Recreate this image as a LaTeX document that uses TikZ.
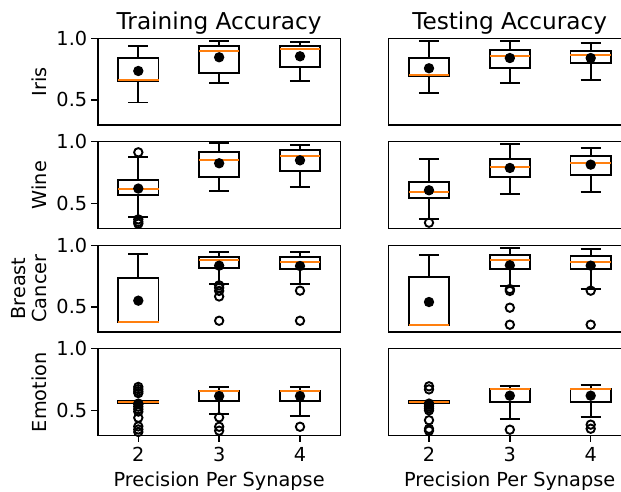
\documentclass[tikz,border=0pt]{standalone}
\usepackage{fontspec}
\setmainfont{DejaVu Sans}
\definecolor{mplorange}{HTML}{FF7F0E}
\tikzset{
  spine/.style={line width=1.4pt, line cap=rect},
  boxline/.style={line width=1.8pt},
  medline/.style={line width=1.8pt, mplorange},
  flier/.style={line width=1.9pt},
  tick/.style={font=\fontsize{19.3}{23}\selectfont, inner sep=0pt},
  ttl/.style={font=\fontsize{23.2}{28}\selectfont, inner sep=0pt, anchor=base},
  lbl/.style={font=\fontsize{19.3}{23}\selectfont, inner sep=0pt, anchor=base},
}
% x, whislo, q1, median, q3, whishi, mean
\newcommand\bxp[7]{%
  \draw[boxline] (#1,#3) -- (#1,#2) (#1-0.125,#2) -- (#1+0.125,#2);
  \draw[boxline] (#1,#5) -- (#1,#6) (#1-0.125,#6) -- (#1+0.125,#6);
  \draw[boxline] (#1-0.25,#3) rectangle (#1+0.25,#5);
  \draw[medline] (#1-0.25,#4) -- (#1+0.25,#4);
  \fill (#1,#7) circle (5.2pt);
}
\newcommand\flr[2]{\draw[flier] (#1,#2) circle (4.2pt);}
\newcommand\leftframe{%
  \draw[spine] (1.5,1) rectangle (4.5,0.297);
  \draw[spine] (1.5,1) -- ++(-6.3pt,0) (1.5,0.5) -- ++(-6.3pt,0);
}
\newcommand\rightframe{%
  \draw[spine] (4.376,1) -- (1.5,1) -- (1.5,0.297) -- (4.376,0.297);
}
\newcommand\xticks{%
  \draw[spine] (2,0.297) -- ++(0,-6.3pt) (3,0.297) -- ++(0,-6.3pt) (4,0.297) -- ++(0,-6.3pt);
}
\begin{document}
\begin{tikzpicture}[x=1pt,y=1pt]
\useasboundingbox (0,0) rectangle (621,491);

% titles and labels
\node[ttl] (ttrain) at (219.1,461.7) {Training Accuracy};
\node[ttl] (ttest) at (509.7,461.7) {Testing Accuracy};
\node[lbl] (xlL) at (219.1,5) {Precision Per Synapse};
\node[lbl] (xlR) at (509.7,5) {Precision Per Synapse};
\node[lbl, rotate=90] (ylIris) at (46.7,409.3) {Iris};
\node[lbl, rotate=90] (ylWine) at (46.7,306) {Wine};
\node[lbl, rotate=90] (ylBreast) at (25.2,202.5) {Breast};
\node[lbl, rotate=90] (ylCancer) at (46.7,202.5) {Cancer};
\node[lbl, rotate=90] (ylEmo) at (46.7,98.8) {Emotion};

% ---------- Left column: training ----------
\begin{scope}[shift={(-23.4pt,329.4pt)}, x=80.85pt, y=123.3pt]
  \leftframe
  \node[tick, anchor=east] (a1hi) at ([xshift=-10.5pt]1.5,1) {1.0};
  \node[tick, anchor=east] (a1lo) at ([xshift=-10.5pt]1.5,0.5) {0.5};
  \bxp{2}{0.48}{0.65}{0.66}{0.84}{0.94}{0.735}
  \bxp{3}{0.64}{0.719}{0.897}{0.94}{0.978}{0.846}
  \bxp{4}{0.651}{0.767}{0.91}{0.94}{0.97}{0.854}
\end{scope}

\begin{scope}[shift={(-23.4pt,226.0pt)}, x=80.85pt, y=123.3pt]
  \leftframe
  \node[tick, anchor=east] (a2hi) at ([xshift=-10.5pt]1.5,1) {1.0};
  \node[tick, anchor=east] (a2lo) at ([xshift=-10.5pt]1.5,0.5) {0.5};
  \bxp{2}{0.392}{0.565}{0.619}{0.687}{0.873}{0.62}
  \flr{2}{0.914}\flr{2}{0.37}\flr{2}{0.35}\flr{2}{0.335}
  \bxp{3}{0.603}{0.716}{0.854}{0.919}{0.987}{0.825}
  \bxp{4}{0.635}{0.76}{0.886}{0.93}{0.973}{0.849}
\end{scope}

\begin{scope}[shift={(-23.4pt,122.4pt)}, x=80.85pt, y=123.3pt]
  \leftframe
  \node[tick, anchor=east] (a3hi) at ([xshift=-10.5pt]1.5,1) {1.0};
  \node[tick, anchor=east] (a3lo) at ([xshift=-10.5pt]1.5,0.5) {0.5};
  \bxp{2}{0.38}{0.38}{0.38}{0.732}{0.93}{0.551}
  \bxp{3}{0.684}{0.818}{0.883}{0.908}{0.946}{0.835}
  \flr{3}{0.675}\flr{3}{0.655}\flr{3}{0.63}\flr{3}{0.585}\flr{3}{0.388}
  \bxp{4}{0.684}{0.81}{0.867}{0.908}{0.946}{0.832}
  \flr{4}{0.632}\flr{4}{0.388}
\end{scope}

\begin{scope}[shift={(-23.4pt,19.0pt)}, x=80.85pt, y=123.3pt]
  \leftframe
  \xticks
  \node[tick, anchor=east] (a4hi) at ([xshift=-10.5pt]1.5,1) {1.0};
  \node[tick, anchor=east] (a4lo) at ([xshift=-10.5pt]1.5,0.5) {0.5};
  \node[lbl] (xl2) at ([yshift=-26.3pt]2,0.297) {2};
  \node[lbl] (xl3) at ([yshift=-26.3pt]3,0.297) {3};
  \node[lbl] (xl4) at ([yshift=-26.3pt]4,0.297) {4};
  \bxp{2}{0.56}{0.56}{0.568}{0.576}{0.576}{0.555}
  \flr{2}{0.69}\flr{2}{0.672}\flr{2}{0.655}\flr{2}{0.64}
  \flr{2}{0.55}\flr{2}{0.53}\flr{2}{0.51}\flr{2}{0.49}\flr{2}{0.44}
  \flr{2}{0.37}\flr{2}{0.345}\flr{2}{0.325}
  \bxp{3}{0.47}{0.576}{0.66}{0.66}{0.692}{0.616}
  \flr{3}{0.443}\flr{3}{0.367}\flr{3}{0.335}
  \bxp{4}{0.454}{0.576}{0.66}{0.66}{0.692}{0.616}
  \flr{4}{0.367}
\end{scope}

% ---------- Right column: testing ----------
\begin{scope}[shift={(267.3pt,329.4pt)}, x=80.85pt, y=123.3pt]
  \rightframe
  \bxp{2}{0.559}{0.694}{0.70}{0.84}{0.978}{0.757}
  \bxp{3}{0.64}{0.759}{0.859}{0.903}{0.978}{0.84}
  \bxp{4}{0.662}{0.802}{0.862}{0.897}{0.962}{0.84}
\end{scope}

\begin{scope}[shift={(267.3pt,226.0pt)}, x=80.85pt, y=123.3pt]
  \rightframe
  \bxp{2}{0.37}{0.541}{0.592}{0.676}{0.86}{0.606}
  \flr{2}{0.343}
  \bxp{3}{0.576}{0.711}{0.797}{0.862}{0.981}{0.787}
  \bxp{4}{0.592}{0.73}{0.83}{0.881}{0.951}{0.814}
\end{scope}

\begin{scope}[shift={(267.3pt,122.4pt)}, x=80.85pt, y=123.3pt]
  \rightframe
  \bxp{2}{0.354}{0.354}{0.354}{0.74}{0.921}{0.54}
  \bxp{3}{0.668}{0.81}{0.883}{0.919}{0.978}{0.838}
  \flr{3}{0.645}\flr{3}{0.63}\flr{3}{0.494}\flr{3}{0.356}
  \bxp{4}{0.648}{0.805}{0.865}{0.913}{0.97}{0.835}
  \flr{4}{0.632}\flr{4}{0.356}
\end{scope}

\begin{scope}[shift={(267.3pt,19.0pt)}, x=80.85pt, y=123.3pt]
  \rightframe
  \xticks
  \node[lbl] (xr2) at ([yshift=-26.3pt]2,0.297) {2};
  \node[lbl] (xr3) at ([yshift=-26.3pt]3,0.297) {3};
  \node[lbl] (xr4) at ([yshift=-26.3pt]4,0.297) {4};
  \bxp{2}{0.562}{0.562}{0.57}{0.578}{0.578}{0.555}
  \flr{2}{0.695}\flr{2}{0.67}
  \flr{2}{0.545}\flr{2}{0.53}\flr{2}{0.515}\flr{2}{0.50}\flr{2}{0.42}
  \flr{2}{0.35}\flr{2}{0.335}
  \bxp{3}{0.432}{0.57}{0.67}{0.67}{0.697}{0.619}
  \flr{3}{0.343}
  \bxp{4}{0.449}{0.57}{0.67}{0.67}{0.708}{0.619}
  \flr{4}{0.384}\flr{4}{0.351}
\end{scope}
\end{tikzpicture}
\end{document}
